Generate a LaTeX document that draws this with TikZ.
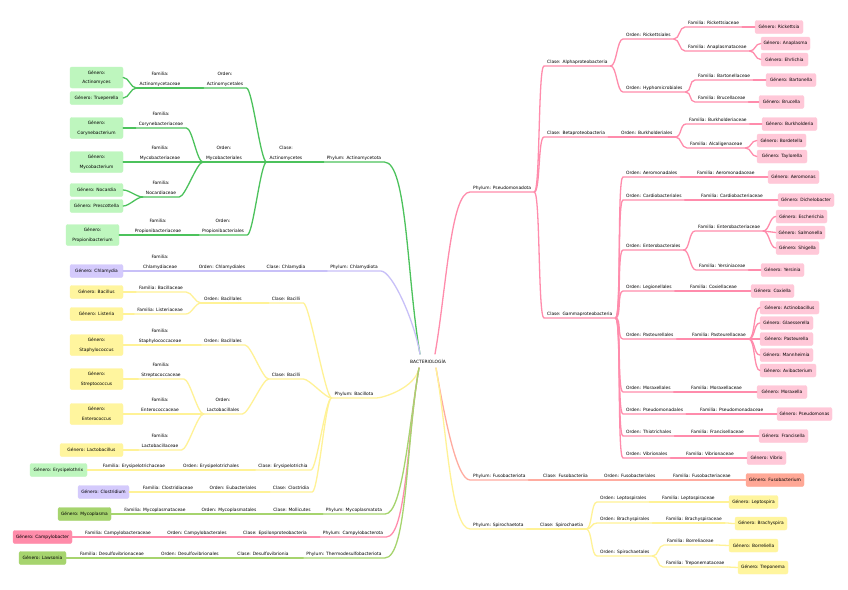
\documentclass[tikz,border=0pt]{standalone}
\usepackage{fontspec}
\setmainfont{DejaVu Sans}
\newcommand\mmfont{\fontsize{4.4}{9.5}\selectfont}
\definecolor{cgreen}{RGB}{76,194,92}
\definecolor{bgreen}{RGB}{190,246,190}
\definecolor{cpurple}{RGB}{200,192,248}
\definecolor{bpurple}{RGB}{212,202,252}
\definecolor{cyellow}{RGB}{255,242,150}
\definecolor{byellow}{RGB}{255,245,158}
\definecolor{clime}{RGB}{166,212,110}
\definecolor{blime}{RGB}{166,212,110}
\definecolor{cpink}{RGB}{255,140,172}
\definecolor{bpink}{RGB}{255,200,216}
\definecolor{bpinkd}{RGB}{255,140,170}
\definecolor{csalmon}{RGB}{255,172,160}
\definecolor{bsalmon}{RGB}{255,168,150}
\colorlet{br}{black}
\tikzset{
  lbl/.style={font=\mmfont, inner xsep=3pt, inner ysep=1.5pt, text height=3.4pt, text depth=1pt, anchor=south},
  lblr/.style={lbl, anchor=south west},
  lt/.style={font=\mmfont, inner sep=0pt, text height=3.4pt, text depth=1pt},
  gb/.style={draw=#1, fill=#1, rounded corners=2pt, font=\mmfont, align=center, inner sep=0pt, minimum height=13pt},
  ln/.style={draw=br, line width=1.3pt, line cap=round, line join=round},
  ls/.style={out=180, in=0, distance=6pt},
  rs/.style={out=0, in=180, distance=6pt},
  rlu/.style={out=100, in=0, in looseness=0.3},
  rld/.style={out=260, in=0, in looseness=0.3},
  rru/.style={out=80, in=180, in looseness=0.3},
  rrd/.style={out=280, in=180, in looseness=0.3},
}
\newcommand\conL[2]{\draw[ln] (#1.south west) to[ls] (#2.south east) -- (#2.south west);}
\newcommand\boxL[2]{\draw[ln] (#1.south west) to[ls] (#2.east);}
\newcommand\conR[2]{\draw[ln] (#1.south east) to[rs] (#2.south west) -- (#2.south east);}
\newcommand\boxR[2]{\draw[ln] (#1.south east) to[rs] (#2.west);}
\begin{document}
\begin{tikzpicture}[x=1pt, y=-1pt, label distance=3.6pt]
\fill[white] (0,0) rectangle (848,589);
\useasboundingbox (0,0) rectangle (848,589);

\node[font=\mmfont, inner sep=0pt] (root) at (428,361) {BACTERIOLOGÍA};
\coordinate (rNW) at (420,354);
\coordinate (rSW) at (419,368);
\coordinate (rNE) at (435,354);
\coordinate (rSE) at (436,368);

% ---------------- Actinomycetota
\begin{scope}
\colorlet{br}{cgreen}
\node[lbl] (phA) at (354,162) {Phylum: Actinomycetota};
\node[lbl,label={[lt]above:{Clase:}}] (clA) at (286,162) {Actinomycetes};
\node[lbl,label={[lt]above:{Orden:}}] (orA1) at (225,88) {Actinomycetales};
\node[lbl,label={[lt]above:{Orden:}}] (orA2) at (224,162) {Mycobacteriales};
\node[lbl,label={[lt]above:{Orden:}}] (orA3) at (223,235) {Propionibacteriales};
\node[lbl,label={[lt]above:{Familia:}}] (faA1) at (160,88) {Actinomycetaceae};
\node[lbl,label={[lt]above:{Familia:}}] (faA2) at (161,128) {Corynebacteriaceae};
\node[lbl,label={[lt]above:{Familia:}}] (faA3) at (160,162) {Mycobacteriaceae};
\node[lbl,label={[lt]above:{Familia:}}] (faA4) at (161,197) {Nocardiaceae};
\node[lbl,label={[lt]above:{Familia:}}] (faA5) at (158,235) {Propionibacteriaceae};
\node[gb=bgreen, minimum width=53pt, minimum height=21pt] (gAct) at (96.5,77.5) {Género:\\Actinomyces};
\node[gb=bgreen, minimum width=53pt] (gTru) at (96.5,98) {Género: Trueperella};
\node[gb=bgreen, minimum width=53pt, minimum height=21pt] (gCor) at (96.5,128) {Género:\\Corynebacterium};
\node[gb=bgreen, minimum width=53pt, minimum height=21pt] (gMyc) at (96.5,162) {Género:\\Mycobacterium};
\node[gb=bgreen, minimum width=53pt] (gNoc) at (96.5,190) {Género: Nocardia};
\node[gb=bgreen, minimum width=53pt] (gPre) at (96.5,206) {Género: Prescottella};
\node[gb=bgreen, minimum width=53pt, minimum height=21pt] (gPro) at (92.5,235) {Género:\\Propionibacterium};
\draw[ln] (rNW) to[rlu] (phA.south east) -- (phA.south west);
\conL{phA}{clA}
\conL{clA}{orA1} \conL{clA}{orA2} \conL{clA}{orA3}
\conL{orA1}{faA1} \boxL{faA1}{gAct} \boxL{faA1}{gTru}
\conL{orA2}{faA2} \conL{orA2}{faA3} \conL{orA2}{faA4}
\boxL{faA2}{gCor} \boxL{faA3}{gMyc} \boxL{faA4}{gNoc} \boxL{faA4}{gPre}
\conL{orA3}{faA5} \boxL{faA5}{gPro}
\end{scope}

% ---------------- Chlamydiota
\begin{scope}
\colorlet{br}{cpurple}
\node[lbl] (phC) at (354,271) {Phylum: Chlamydiota};
\node[lbl] (clC) at (286,271) {Clase: Chlamydia};
\node[lbl] (orC) at (222,271) {Orden: Chlamydiales};
\node[lbl,label={[lt]above:{Familia:}}] (faC) at (160,271) {Chlamydiaceae};
\node[gb=bpurple, minimum width=53pt] (gChl) at (96.5,271) {Género: Chlamydia};
\draw[ln] (rNW) to[rlu] (phC.south east) -- (phC.south west);
\conL{phC}{clC} \conL{clC}{orC} \conL{orC}{faC} \boxL{faC}{gChl}
\end{scope}

% ---------------- Bacillota
\begin{scope}
\colorlet{br}{cyellow}
\node[lbl] (phB) at (354,398) {Phylum: Bacillota};
\node[lbl] (clB1) at (286,303) {Clase: Bacilli};
\node[lbl] (clB2) at (286,379) {Clase: Bacilli};
\node[lbl] (clB3) at (283,470) {Clase: Erysipelotrichia};
\node[lbl] (clB4) at (291,492) {Clase: Clostridia};
\node[lbl] (orB1) at (223,303) {Orden: Bacillales};
\node[lbl] (orB2) at (223,345) {Orden: Bacillales};
\node[lbl,label={[lt]above:{Orden:}}] (orB3) at (223,414) {Lactobacillales};
\node[lbl] (orB4) at (211,470) {Orden: Erysipelotrichales};
\node[lbl] (orB5) at (233,492) {Orden: Eubacteriales};
\node[lbl] (faB1) at (161,292) {Familia: Bacillaceae};
\node[lbl] (faB2) at (160,314) {Familia: Listeriaceae};
\node[lbl,label={[lt]above:{Familia:}}] (faB3) at (160,345) {Staphylococcaceae};
\node[lbl,label={[lt]above:{Familia:}}] (faB4) at (161,379) {Streptococcaceae};
\node[lbl,label={[lt]above:{Familia:}}] (faB5) at (160,414) {Enterococcaceae};
\node[lbl,label={[lt]above:{Familia:}}] (faB6) at (160,450) {Lactobacillaceae};
\node[lbl] (faB7) at (134,470) {Familia: Erysipelotrichaceae};
\node[lbl] (faB8) at (168,492) {Familia: Clostridiaceae};
\node[gb=byellow, minimum width=53pt] (gBac) at (96.5,292) {Género: Bacillus};
\node[gb=byellow, minimum width=53pt] (gLis) at (96.5,314) {Género: Listeria};
\node[gb=byellow, minimum width=53pt, minimum height=21pt] (gSta) at (96.5,345) {Género:\\Staphylococcus};
\node[gb=byellow, minimum width=53pt, minimum height=21pt] (gStr) at (96.5,379) {Género:\\Streptococcus};
\node[gb=byellow, minimum width=53pt, minimum height=21pt] (gEnt) at (96.5,414) {Género:\\Enterococcus};
\node[gb=byellow, minimum width=63pt] (gLac) at (91.5,450) {Género: Lactobacillus};
\node[gb=bgreen, minimum width=57pt] (gEry) at (58.5,470) {Género: Erysipelothrix};
\node[gb=bpurple, minimum width=51pt] (gClo) at (103.5,492) {Género: Clostridium};
\draw[ln] (rSW) to[rld] (phB.south east) -- (phB.south west);
\conL{phB}{clB1} \conL{phB}{clB2} \conL{phB}{clB3} \conL{phB}{clB4}
\conL{clB1}{orB1} \conL{orB1}{faB1} \conL{orB1}{faB2} \boxL{faB1}{gBac} \boxL{faB2}{gLis}
\conL{clB2}{orB2} \conL{clB2}{orB3} \conL{orB2}{faB3} \boxL{faB3}{gSta}
\conL{orB3}{faB4} \conL{orB3}{faB5} \conL{orB3}{faB6}
\boxL{faB4}{gStr} \boxL{faB5}{gEnt} \boxL{faB6}{gLac}
\conL{clB3}{orB4} \conL{orB4}{faB7} \boxL{faB7}{gEry}
\conL{clB4}{orB5} \conL{orB5}{faB8} \boxL{faB8}{gClo}
\end{scope}

% ---------------- Mycoplasmatota
\begin{scope}
\colorlet{br}{clime}
\node[lbl] (phM) at (354,514) {Phylum: Mycoplasmatota};
\node[lbl] (clM) at (292,514) {Clase: Mollicutes};
\node[lbl] (orM) at (229,514) {Orden: Mycoplasmatales};
\node[lbl] (faM) at (155,514) {Familia: Mycoplasmataceae};
\node[gb=blime, minimum width=53pt] (gMyp) at (84.5,514) {Género: Mycoplasma};
\draw[ln] (rSW) to[rld] (phM.south east) -- (phM.south west);
\conL{phM}{clM} \conL{clM}{orM} \conL{orM}{faM} \boxL{faM}{gMyp}
\end{scope}

% ---------------- Campylobacterota
\begin{scope}
\colorlet{br}{cpink}
\node[lbl] (phCa) at (353,537) {Phylum: Campylobacterota};
\node[lbl] (clCa) at (275,537) {Clase: Epsilonproteobacteria};
\node[lbl] (orCa) at (197,537) {Orden: Campylobacterales};
\node[lbl] (faCa) at (118,537) {Familia: Campylobacteraceae};
\node[gb=bpinkd, minimum width=59pt] (gCam) at (42.5,537) {Género: Campylobacter};
\draw[ln] (rSW) to[rld] (phCa.south east) -- (phCa.south west);
\conL{phCa}{clCa} \conL{clCa}{orCa} \conL{orCa}{faCa} \boxL{faCa}{gCam}
\end{scope}

% ---------------- Thermodesulfobacteriota
\begin{scope}
\colorlet{br}{clime}
\node[lbl] (phT) at (344,558) {Phylum: Thermodesulfobacteriota};
\node[lbl] (clT) at (263,558) {Clase: Desulfovibrionia};
\node[lbl] (orT) at (190,558) {Orden: Desulfovibrionales};
\node[lbl] (faT) at (112,558) {Familia: Desulfovibrionaceae};
\node[gb=blime, minimum width=47pt] (gLaw) at (42.5,558) {Género: Lawsonia};
\draw[ln] (rSW) to[rld] (phT.south east) -- (phT.south west);
\conL{phT}{clT} \conL{clT}{orT} \conL{orT}{faT} \boxL{faT}{gLaw}
\end{scope}

% ---------------- Pseudomonadota
\begin{scope}
\colorlet{br}{cpink}
\node[lblr] (phP) at (470,192) {Phylum: Pseudomonadota};
\node[lblr] (clP1) at (544,66) {Clase: Alphaproteobacteria};
\node[lblr] (clP2) at (544,137) {Clase: Betaproteobacteria};
\node[lblr] (clP3) at (544,318) {Clase: Gammaproteobacteria};
\node[lblr] (orP1) at (623,39) {Orden: Rickettsiales};
\node[lblr] (orP2) at (623,92) {Orden: Hyphomicrobiales};
\node[lblr] (orP3) at (618,137) {Orden: Burkholderiales};
\node[lblr] (orP4) at (623,177) {Orden: Aeromonadales};
\node[lblr] (orP5) at (623,200) {Orden: Cardiobacteriales};
\node[lblr] (orP6) at (623,250) {Orden: Enterobacterales};
\node[lblr] (orP7) at (623,291) {Orden: Legionellales};
\node[lblr] (orP8) at (623,339) {Orden: Pasteurellales};
\node[lblr] (orP9) at (623,392) {Orden: Moraxellales};
\node[lblr] (orP10) at (623,414) {Orden: Pseudomonadales};
\node[lblr] (orP11) at (623,436) {Orden: Thiotrichales};
\node[lblr] (orP12) at (623,458) {Orden: Vibrionales};
\node[lblr] (faP1) at (685,27) {Familia: Rickettsiaceae};
\node[lblr] (faP2) at (685,51) {Familia: Anaplasmataceae};
\node[lblr] (faP3) at (695,80) {Familia: Bartonellaceae};
\node[lblr] (faP4) at (695,102) {Familia: Brucellaceae};
\node[lblr] (faP5) at (686,124) {Familia: Burkholderiaceae};
\node[lblr] (faP6) at (687,148) {Familia: Alcaligenaceae};
\node[lblr] (faP7) at (694,177) {Familia: Aeromonadaceae};
\node[lblr] (faP8) at (698,200) {Familia: Cardiobacteriaceae};
\node[lblr] (faP9) at (695,231) {Familia: Enterobacteriaceae};
\node[lblr] (faP10) at (696,270) {Familia: Yersiniaceae};
\node[lblr] (faP11) at (687,291) {Familia: Coxiellaceae};
\node[lblr] (faP12) at (689,339) {Familia: Pasteurellaceae};
\node[lblr] (faP13) at (688,392) {Familia: Moraxellaceae};
\node[lblr] (faP14) at (697,414) {Familia: Pseudomonadaceae};
\node[lblr] (faP15) at (688,436) {Familia: Francisellaceae};
\node[lblr] (faP16) at (683,458) {Familia: Vibrionaceae};
\node[gb=bpink, minimum width=48pt] (gRic) at (779,27) {Género: Rickettsia};
\node[gb=bpink, minimum width=49pt] (gAna) at (785.5,43.5) {Género: Anaplasma};
\node[gb=bpink, minimum width=47pt] (gEhr) at (784.5,59.5) {Género: Ehrlichia};
\node[gb=bpink, minimum width=50pt] (gBar) at (791,80) {Género: Bartonella};
\node[gb=bpink, minimum width=45pt] (gBru) at (781.5,102) {Género: Brucella};
\node[gb=bpink, minimum width=55pt] (gBur) at (789.5,124) {Género: Burkholderia};
\node[gb=bpink, minimum width=49pt] (gBor) at (781.5,140.5) {Género: Bordetella};
\node[gb=bpink, minimum width=50pt] (gTay) at (782,156.5) {Género: Taylorella};
\node[gb=bpink, minimum width=51pt] (gAer) at (793.5,177) {Género: Aeromonas};
\node[gb=bpink, minimum width=56pt] (gDic) at (806,200) {Género: Dichelobacter};
\node[gb=bpink, minimum width=51pt] (gEsc) at (801.5,216.5) {Género: Escherichia};
\node[gb=bpink, minimum width=49pt] (gSal) at (800.5,232.5) {Género: Salmonella};
\node[gb=bpink, minimum width=43pt] (gShi) at (797.5,248) {Género: Shigella};
\node[gb=bpink, minimum width=43pt] (gYer) at (782.5,270) {Género: Yersinia};
\node[gb=bpink, minimum width=43pt] (gCox) at (772.5,291) {Género: Coxiella};
\node[gb=bpink, minimum width=59pt] (gAct2) at (789.5,307.5) {Género: Actinobacillus};
\node[gb=bpink, minimum width=53pt] (gGla) at (786.5,323) {Género: Glaesserella};
\node[gb=bpink, minimum width=53pt] (gPas) at (786.5,339) {Género: Pasteurella};
\node[gb=bpink, minimum width=53pt] (gMan) at (786.5,355) {Género: Mannheimia};
\node[gb=bpink, minimum width=56pt] (gAvi) at (788,370.5) {Género: Avibacterium};
\node[gb=bpink, minimum width=50pt] (gMor) at (782,392) {Género: Moraxella};
\node[gb=bpink, minimum width=55pt] (gPse) at (804.5,414) {Género: Pseudomonas};
\node[gb=bpink, minimum width=49pt] (gFra) at (783.5,436) {Género: Francisella};
\node[gb=bpink, minimum width=39pt] (gVib) at (766.5,458) {Género: Vibrio};
\draw[ln] (rNE) to[rru] (phP.south west) -- (phP.south east);
\conR{phP}{clP1} \conR{phP}{clP2} \conR{phP}{clP3}
\conR{clP1}{orP1} \conR{clP1}{orP2}
\conR{orP1}{faP1} \conR{orP1}{faP2} \boxR{faP1}{gRic} \boxR{faP2}{gAna} \boxR{faP2}{gEhr}
\conR{orP2}{faP3} \conR{orP2}{faP4} \boxR{faP3}{gBar} \boxR{faP4}{gBru}
\conR{clP2}{orP3} \conR{orP3}{faP5} \conR{orP3}{faP6}
\boxR{faP5}{gBur} \boxR{faP6}{gBor} \boxR{faP6}{gTay}
\conR{clP3}{orP4} \conR{clP3}{orP5} \conR{clP3}{orP6} \conR{clP3}{orP7}
\conR{clP3}{orP8} \conR{clP3}{orP9} \conR{clP3}{orP10} \conR{clP3}{orP11} \conR{clP3}{orP12}
\conR{orP4}{faP7} \boxR{faP7}{gAer}
\conR{orP5}{faP8} \boxR{faP8}{gDic}
\conR{orP6}{faP9} \conR{orP6}{faP10}
\boxR{faP9}{gEsc} \boxR{faP9}{gSal} \boxR{faP9}{gShi} \boxR{faP10}{gYer}
\conR{orP7}{faP11} \boxR{faP11}{gCox}
\conR{orP8}{faP12}
\boxR{faP12}{gAct2} \boxR{faP12}{gGla} \boxR{faP12}{gPas} \boxR{faP12}{gMan} \boxR{faP12}{gAvi}
\conR{orP9}{faP13} \boxR{faP13}{gMor}
\conR{orP10}{faP14} \boxR{faP14}{gPse}
\conR{orP11}{faP15} \boxR{faP15}{gFra}
\conR{orP12}{faP16} \boxR{faP16}{gVib}
\end{scope}

% ---------------- Fusobacteriota
\begin{scope}
\colorlet{br}{csalmon}
\node[lblr] (phF) at (470,480) {Phylum: Fusobacteriota};
\node[lblr] (clF) at (540,480) {Clase: Fusobacteriia};
\node[lblr] (orF) at (601,480) {Orden: Fusobacteriales};
\node[lblr] (faF) at (670,480) {Familia: Fusobacteriaceae};
\node[gb=bsalmon, minimum width=58pt] (gFus) at (775,480) {Género: Fusobacterium};
\draw[ln] (rSE) to[rrd] (phF.south west) -- (phF.south east);
\conR{phF}{clF} \conR{clF}{orF} \conR{orF}{faF} \boxR{faF}{gFus}
\end{scope}

% ---------------- Spirochaetota
\begin{scope}
\colorlet{br}{cyellow}
\node[lblr] (phS) at (470,529) {Phylum: Spirochaetota};
\node[lblr] (clS) at (537,529) {Clase: Spirochaetia};
\node[lblr] (orS1) at (597,502) {Orden: Leptospirales};
\node[lblr] (orS2) at (597,523) {Orden: Brachyspirales};
\node[lblr] (orS3) at (597,556) {Orden: Spirochaetales};
\node[lblr] (faS1) at (659,502) {Familia: Leptospiraceae};
\node[lblr] (faS2) at (663,523) {Familia: Brachyspiraceae};
\node[lblr] (faS3) at (664,545) {Familia: Borreliaceae};
\node[lblr] (faS4) at (663,567) {Familia: Treponemataceae};
\node[gb=byellow, minimum width=49pt] (gLep) at (753.5,502) {Género: Leptospira};
\node[gb=byellow, minimum width=52pt] (gBra) at (761,523.5) {Género: Brachyspira};
\node[gb=byellow, minimum width=49pt] (gBorr) at (753.5,545.5) {Género: Borreliella};
\node[gb=byellow, minimum width=50pt] (gTre) at (763,567.5) {Género: Treponema};
\draw[ln] (rSE) to[rrd] (phS.south west) -- (phS.south east);
\conR{phS}{clS}
\conR{clS}{orS1} \conR{clS}{orS2} \conR{clS}{orS3}
\conR{orS1}{faS1} \boxR{faS1}{gLep}
\conR{orS2}{faS2} \boxR{faS2}{gBra}
\conR{orS3}{faS3} \conR{orS3}{faS4} \boxR{faS3}{gBorr} \boxR{faS4}{gTre}
\end{scope}
\end{tikzpicture}
\end{document}
